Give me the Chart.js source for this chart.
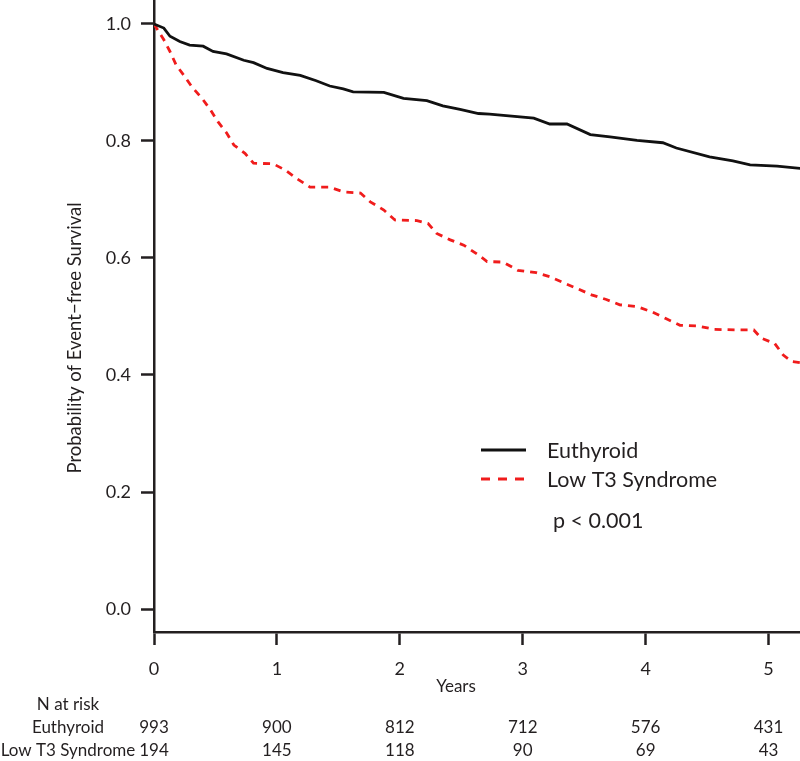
<!DOCTYPE html>
<html>
<head>
<meta charset="utf-8">
<script src="https://cdn.jsdelivr.net/npm/chart.js@4"></script>
<style>
html,body{margin:0;padding:0;background:#fff;}
#wrap{width:800px;height:761px;}
</style>
</head>
<body>
<div id="wrap"><canvas id="c" width="800" height="761"></canvas></div>
<script>
// ---- data ----
const euthyroidYears = [0, 0.08, 0.13, 0.21, 0.29, 0.40, 0.48, 0.59, 0.73, 0.81, 0.92, 1.05, 1.19, 1.32, 1.43, 1.54, 1.62, 1.87, 2.03, 2.22, 2.35, 2.49, 2.64, 2.73, 3.09, 3.22, 3.36, 3.55, 3.71, 3.93, 4.14, 4.25, 4.52, 4.71, 4.85, 5.07, 5.26];
const euthyroidSurv  = [1.0, 0.993, 0.979, 0.970, 0.964, 0.962, 0.953, 0.949, 0.938, 0.934, 0.924, 0.917, 0.912, 0.903, 0.894, 0.889, 0.884, 0.883, 0.873, 0.869, 0.860, 0.854, 0.847, 0.846, 0.839, 0.829, 0.829, 0.811, 0.807, 0.801, 0.797, 0.788, 0.773, 0.766, 0.759, 0.757, 0.753];
const lowT3Years = [0, 0.08, 0.13, 0.18, 0.24, 0.31, 0.39, 0.46, 0.52, 0.59, 0.65, 0.74, 0.81, 0.97, 1.07, 1.16, 1.27, 1.43, 1.54, 1.68, 1.76, 1.87, 1.96, 2.14, 2.23, 2.30, 2.41, 2.52, 2.64, 2.71, 2.84, 2.96, 3.11, 3.22, 3.34, 3.44, 3.56, 3.68, 3.79, 3.93, 4.05, 4.16, 4.28, 4.42, 4.56, 4.74, 4.88, 4.94, 5.05, 5.12, 5.19, 5.26];
const lowT3Surv  = [1.0, 0.973, 0.953, 0.930, 0.913, 0.892, 0.873, 0.853, 0.833, 0.814, 0.793, 0.779, 0.762, 0.761, 0.750, 0.736, 0.721, 0.721, 0.713, 0.711, 0.696, 0.682, 0.665, 0.664, 0.659, 0.642, 0.631, 0.622, 0.605, 0.594, 0.593, 0.579, 0.575, 0.568, 0.557, 0.548, 0.537, 0.529, 0.520, 0.517, 0.508, 0.497, 0.485, 0.484, 0.478, 0.477, 0.477, 0.463, 0.454, 0.434, 0.423, 0.421];
const xTickValues = [0, 1, 2, 3, 4, 5];
const yTickValues = [0.0, 0.2, 0.4, 0.6, 0.8, 1.0];
const seriesNames = ["Euthyroid", "Low T3 Syndrome"];
const riskYears = [0, 1, 2, 3, 4, 5];
const riskEuthyroid = [993, 900, 812, 712, 576, 431];
const riskLowT3 = [194, 145, 118, 90, 69, 43];
const pValueText = "p < 0.001";
const xTitle = "Years";
const yTitle = "Probability of Event\u2212free Survival";

const FONT = "Lato, 'Open Sans', sans-serif";
const TXT = "#231f20";
const RED = "rgb(240,28,28)";

const pts = (xs, ys) => xs.map((x, i) => ({x: x, y: ys[i]}));

const extras = {
  id: 'extras',
  afterDraw(chart) {
    const ctx = chart.ctx;
    const xs = chart.scales.x;
    ctx.save();
    ctx.fillStyle = TXT;
    // y title
    ctx.save();
    ctx.translate(75, 338);
    ctx.rotate(-Math.PI / 2);
    ctx.font = "18.5px " + FONT;
    ctx.textAlign = "center";
    ctx.textBaseline = "middle";
    ctx.fillText(yTitle, 0, 0);
    ctx.restore();
    // x title
    ctx.font = "17px " + FONT;
    ctx.textAlign = "center";
    ctx.textBaseline = "middle";
    ctx.fillText(xTitle, 456, 687);
    // risk table
    ctx.fillText("N at risk", 68, 705);
    ctx.fillText(seriesNames[0], 68, 728);
    ctx.fillText(seriesNames[1], 68, 751);
    riskYears.forEach((t, i) => {
      const px = xs.getPixelForValue(t);
      ctx.fillText(String(riskEuthyroid[i]), px, 728);
      ctx.fillText(String(riskLowT3[i]), px, 751);
    });
    // legend
    ctx.lineWidth = 3;
    ctx.strokeStyle = "#111";
    ctx.beginPath(); ctx.moveTo(481, 450); ctx.lineTo(526, 450); ctx.stroke();
    ctx.strokeStyle = RED;
    ctx.setLineDash([9, 8]);
    ctx.beginPath(); ctx.moveTo(481, 479); ctx.lineTo(526, 479); ctx.stroke();
    ctx.setLineDash([]);
    ctx.font = "21.5px " + FONT;
    ctx.textAlign = "left";
    ctx.fillText(seriesNames[0], 547, 451);
    ctx.fillText(seriesNames[1], 547, 480);
    ctx.fillText(pValueText, 553, 521);
    ctx.restore();
  }
};

new Chart(document.getElementById('c'), {
  type: 'line',
  data: {
    datasets: [
      {
        label: seriesNames[0],
        data: pts(euthyroidYears, euthyroidSurv),
        borderColor: "#111",
        borderWidth: 2.8,
        pointRadius: 0,
        tension: 0,
        fill: false
      },
      {
        label: seriesNames[1],
        data: pts(lowT3Years, lowT3Surv),
        borderColor: RED,
        borderWidth: 2.8,
        borderDash: [7, 6],
        pointRadius: 0,
        tension: 0,
        fill: false
      }
    ]
  },
  options: {
    responsive: false,
    animation: false,
    devicePixelRatio: 1,
    layout: {padding: 0},
    plugins: {legend: {display: false}, tooltip: {enabled: false}, title: {display: false}},
    scales: {
      x: {
        type: 'linear',
        min: 0,
        max: 5.256,
        afterBuildTicks: s => { s.ticks = xTickValues.map(v => ({value: v})); },
        afterFit: s => { s.height = 129; s.paddingLeft = 0; s.paddingRight = 0; },
        grid: {drawOnChartArea: false, drawTicks: true, tickLength: 13, tickWidth: 2.5, tickColor: "#231f20"},
        border: {display: true, color: "#231f20", width: 2.5},
        ticks: {color: TXT, font: {family: FONT, size: 18}, padding: 13, maxRotation: 0,
                callback: v => String(v)}
      },
      y: {
        type: 'linear',
        min: -0.0393,
        max: 1.041,
        afterBuildTicks: s => { s.ticks = yTickValues.map(v => ({value: v})); },
        afterFit: s => { s.width = 154; s.paddingTop = 0; s.paddingBottom = 0; },
        grid: {drawOnChartArea: false, drawTicks: true, tickLength: 13, tickWidth: 2.5, tickColor: "#231f20"},
        border: {display: true, color: "#231f20", width: 2.5},
        ticks: {color: TXT, font: {family: FONT, size: 18}, padding: 10,
                callback: v => Number(v).toFixed(1)}
      }
    }
  },
  plugins: [extras]
});
</script>
</body>
</html>
